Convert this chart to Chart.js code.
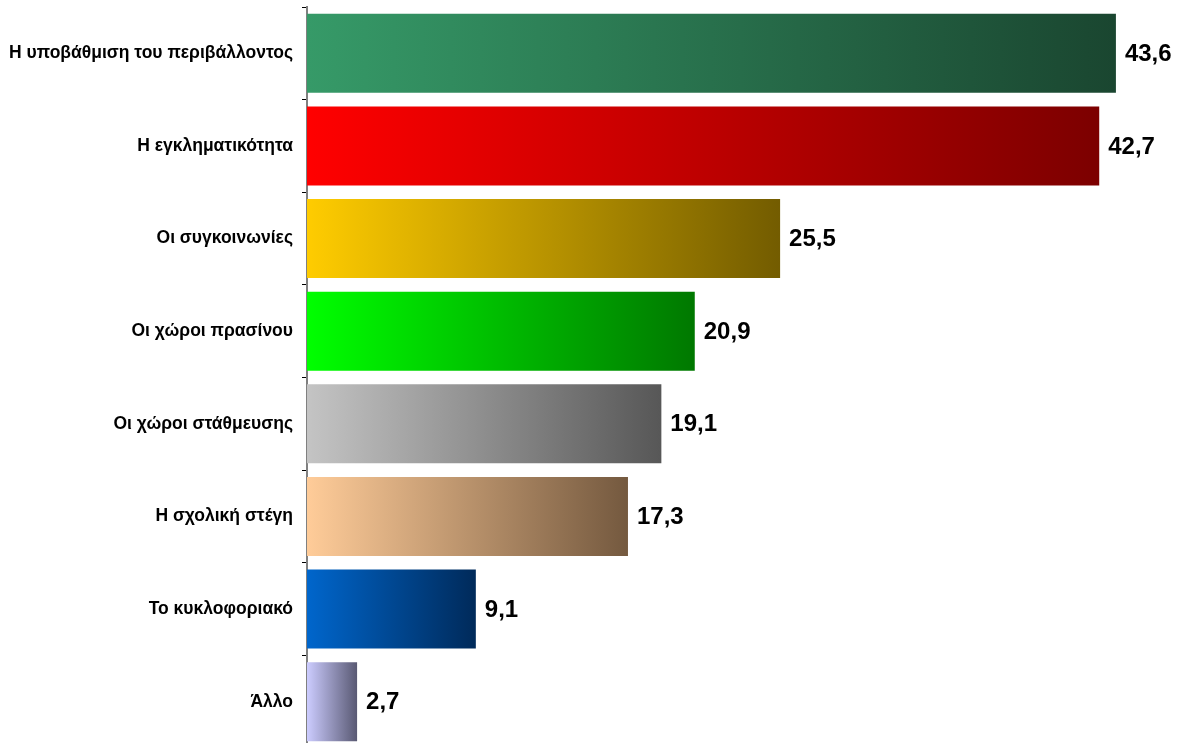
<!DOCTYPE html>
<html>
<head>
<meta charset="utf-8">
<script src="https://cdn.jsdelivr.net/npm/chart.js@4"></script>
<style>
  html, body { margin: 0; padding: 0; background: #fff; overflow: hidden; }
  canvas { display: block; }
</style>
</head>
<body>
<canvas id="barChart" width="1192" height="748"></canvas>
<script>
const categories = [
  "Η υποβάθμιση του περιβάλλοντος",
  "Η εγκληματικότητα",
  "Οι συγκοινωνίες",
  "Οι χώροι πρασίνου",
  "Οι χώροι στάθμευσης",
  "Η σχολική στέγη",
  "Το κυκλοφοριακό",
  "Άλλο"
];
const values = [43.6, 42.7, 25.5, 20.9, 19.1, 17.3, 9.1, 2.7];

// gradient start / end colour for each bar
const startColors = ["#369a68", "#ff0000", "#ffcc00", "#00ff00", "#c4c4c4", "#ffcc99", "#0066cc", "#ccccff"];
const endColors   = ["#1a4630", "#7c0000", "#735c00", "#007800", "#575757", "#74593f", "#002a5a", "#595973"];

function barGradient(ctx) {
  const chart = ctx.chart;
  const area = chart.chartArea;
  if (!area) return startColors[ctx.dataIndex];
  const x = chart.scales.x;
  const x0 = x.getPixelForValue(0);
  const x1 = x.getPixelForValue(values[ctx.dataIndex]);
  const g = chart.ctx.createLinearGradient(x0, 0, x1, 0);
  g.addColorStop(0, startColors[ctx.dataIndex]);
  g.addColorStop(1, endColors[ctx.dataIndex]);
  return g;
}

// draw the value next to each bar
const valueLabels = {
  id: "valueLabels",
  afterDatasetsDraw(chart) {
    const c = chart.ctx;
    const meta = chart.getDatasetMeta(0);
    c.save();
    c.font = "bold 24px 'Liberation Sans', Arial, sans-serif";
    c.fillStyle = "#000";
    c.textBaseline = "middle";
    c.textAlign = "left";
    meta.data.forEach((bar, i) => {
      c.fillText(values[i].toFixed(1).replace(".", ","), bar.x + 9, bar.y + 1);
    });
    c.restore();
  }
};

new Chart(document.getElementById("barChart"), {
  type: "bar",
  data: {
    labels: categories,
    datasets: [{
      data: values,
      backgroundColor: barGradient,
      borderWidth: 0,
      barPercentage: 0.853,
      categoryPercentage: 1
    }]
  },
  options: {
    indexAxis: "y",
    responsive: false,
    animation: false,
    layout: { padding: { top: 7, right: 13, bottom: 0, left: 0 } },
    plugins: {
      legend: { display: false },
      tooltip: { enabled: false }
    },
    scales: {
      x: {
        display: false,
        min: 0,
        max: 47
      },
      y: {
        afterFit(scale) {
          scale.width = 307;
          scale.paddingTop = 0;
          scale.paddingBottom = 0;
        },
        border: { display: true, color: "#808080", width: 2 },
        grid: {
          display: true,
          offset: true,
          drawOnChartArea: false,
          drawTicks: true,
          tickLength: 5,
          color: "#000"
        },
        ticks: {
          color: "#000",
          padding: 9,
          font: { family: "'Liberation Sans', Arial, sans-serif", size: 17.5, weight: "bold" }
        }
      }
    }
  },
  plugins: [valueLabels]
});
</script>
</body>
</html>
